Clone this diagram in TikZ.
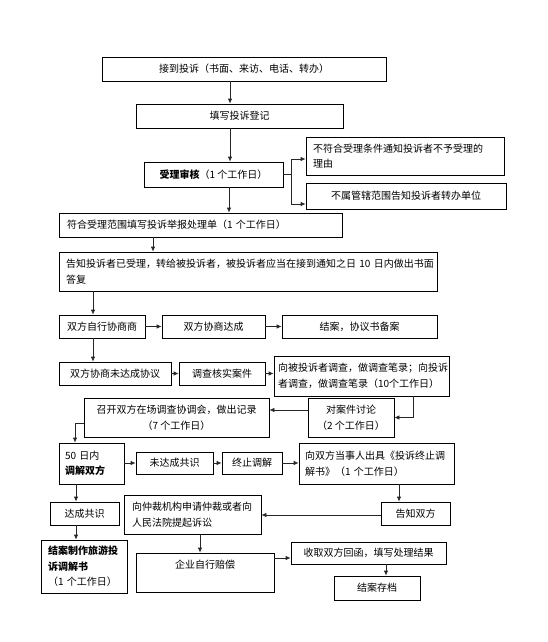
\documentclass[tikz,border=0pt]{standalone}
\usepackage{fontspec}
\setmainfont{Noto Sans CJK SC}
\usetikzlibrary{arrows.meta}
\begin{document}
\begin{tikzpicture}[x=1pt,y=-1pt,
  box/.style={draw=black, line width=0.8pt, inner sep=0pt, font=\fontsize{10}{15.5}\selectfont, align=center},
  lbox/.style={box, align=left},
  arr/.style={draw=black!85, line width=0.8pt, -{Latex[length=5pt,width=4.5pt]}},
  ln/.style={draw=black!85, line width=0.8pt}]
\useasboundingbox (0,0) rectangle (547,642);
\fill[white] (0,0) rectangle (547,642);

\node[box, minimum width=284pt, minimum height=24pt] (b1) at (244,69) {接到投诉（书面、来访、电话、转办）};
\node[box, minimum width=207pt, minimum height=24pt] (b2) at (239.5,116) {填写投诉登记};
\node[box, minimum width=139pt, minimum height=25pt] (b3) at (213.5,174.5) {\textbf{受理审核}（1 个工作日）};
\node[lbox, minimum width=198pt, minimum height=38pt, text width=184pt] (b4) at (405,156) {不符合受理条件通知投诉者不予受理的\\理由};
\node[box, minimum width=200pt, minimum height=26pt] (b5) at (406,196) {不属管辖范围告知投诉者转办单位};
\node[lbox, minimum width=283pt, minimum height=24pt, text width=267pt] (b6) at (200.5,225) {符合受理范围填写投诉举报处理单（1 个工作日）};
\node[lbox, minimum width=378pt, minimum height=39pt, text width=364pt] (b7) at (248,271.5) {\mbox{告知投诉者已受理，转给被投诉者，被投诉者应当在接到通知之日 10 日内做出书面}\\答复};
\node[box, minimum width=86pt, minimum height=23pt] (b8) at (102,326.5) {双方自行协商商};
\node[box, minimum width=103pt, minimum height=23pt] (b9) at (213.5,326.5) {双方协商达成};
\node[box, minimum width=155pt, minimum height=23pt] (b10) at (359.5,326.5) {结案，协议书备案};
\node[box, minimum width=112pt, minimum height=23pt] (b11) at (115,373.5) {双方协商未达成协议};
\node[box, minimum width=86pt, minimum height=23pt] (b12) at (222,373.5) {调查核实案件};
\node[lbox, minimum width=175pt, minimum height=40pt, text width=167pt] (b13) at (361.5,376) {\mbox{向被投诉者调查，做调查笔录；向投诉}\\\mbox{者调查，做调查笔录（10个工作日）}};
\node[box, minimum width=185pt, minimum height=39pt] (b14) at (176.5,417.5) {召开双方在场调查协调会，做出记录\\（7 个工作日）};
\node[box, minimum width=86pt, minimum height=39pt] (b15) at (351,417.5) {对案件讨论\\（2 个工作日）};
\node[lbox, minimum width=65pt, minimum height=41pt, text width=53pt] (b16) at (91.5,463.5) {50 日内\\\textbf{调解双方}};
\node[box, minimum width=77pt, minimum height=22pt] (b17) at (174.5,463) {未达成共识};
\node[box, minimum width=60pt, minimum height=22pt] (b18) at (252,463) {终止调解};
\node[lbox, minimum width=155pt, minimum height=41pt, text width=143pt] (b19) at (376.5,463.5) {向双方当事人出具《投诉终止调\\解书》（1 个工作日）};
\node[box, minimum width=69pt, minimum height=23pt] (b20) at (415.5,513.5) {告知双方};
\node[box, minimum width=69pt, minimum height=23pt] (b21) at (84.5,513.5) {达成共识};
\node[lbox, minimum width=86pt, minimum height=53pt, text width=72pt] (b22) at (84,566.5) {\textbf{结案制作旅游投}\\\textbf{诉调解书}\\（1 个工作日）};
\node[lbox, minimum width=137pt, minimum height=39pt, text width=121pt] (b23) at (192.5,514.5) {向仲裁机构申请仲裁或者向\\人民法院提起诉讼};
\node[box, minimum width=138pt, minimum height=39pt, text height=15pt, text depth=24pt] (b24) at (205,572.5) {企业自行赔偿};
\node[box, minimum width=155pt, minimum height=22pt] (b25) at (368.5,553) {收取双方回函，填写处理结果};
\node[box, minimum width=86pt, minimum height=24pt] (b26) at (377,588) {结案存档};

\draw[arr] (b1.south -| 230,0) -- (b2.north -| 230,0);
\draw[arr] (b2.south -| 230,0) -- (b3.north -| 230,0);
\coordinate (br) at (291,174.5);
\draw[ln] (b3.east) -- (br);
\draw[arr] (br) |- (b4.west |- 0,159);
\draw[arr] (br) |- (b5.west |- 0,204);
\draw[arr] (b3.south -| 229,0) -- (b6.north -| 229,0);
\draw[arr] (b6.south -| 153,0) -- (b7.north -| 153,0);
\draw[arr] (b7.south -| 93,0) -- (b8.north -| 93,0);
\draw[arr] (b8.east) -- (b9.west);
\draw[arr] (b9.east) -- (b10.west);
\draw[arr] (b8.south -| 93,0) -- (b11.north -| 93,0);
\draw[arr] (b11.east) -- (b12.west);
\draw[arr] (b12.east) -- (b13.west |- b12.east);
\draw[arr] (b13.south -| 413,0) |- (b15.east);
\draw[arr] (b15.west |- 0,410) -- (b14.east |- 0,410);
\draw[arr] (b14.west |- 0,423) -| (b16.north -| 75,0);
\draw[arr] (b16.east |- b17.west) -- (b17.west);
\draw[arr] (b17.east) -- (b18.west);
\draw[arr] (b18.east) -- (b19.west |- b18.east);
\draw[arr] (b19.south -| 399,0) -- (b20.north -| 399,0);
\draw[arr] (b16.south -| 76,0) -- (b21.north -| 76,0);
\draw[arr] (b21.south -| 76,0) -- (b22.north -| 76,0);
\draw[arr] (b20.west |- 0,515) -- (b23.east |- 0,515);
\draw[arr] (b23.south -| 200,0) -- (b24.north -| 200,0);
\draw[arr] (b24.east |- 0,558) -- (b25.west |- 0,558);
\draw[arr] (b25.south -| 386,0) -- (b26.north -| 386,0);
\end{tikzpicture}
\end{document}
